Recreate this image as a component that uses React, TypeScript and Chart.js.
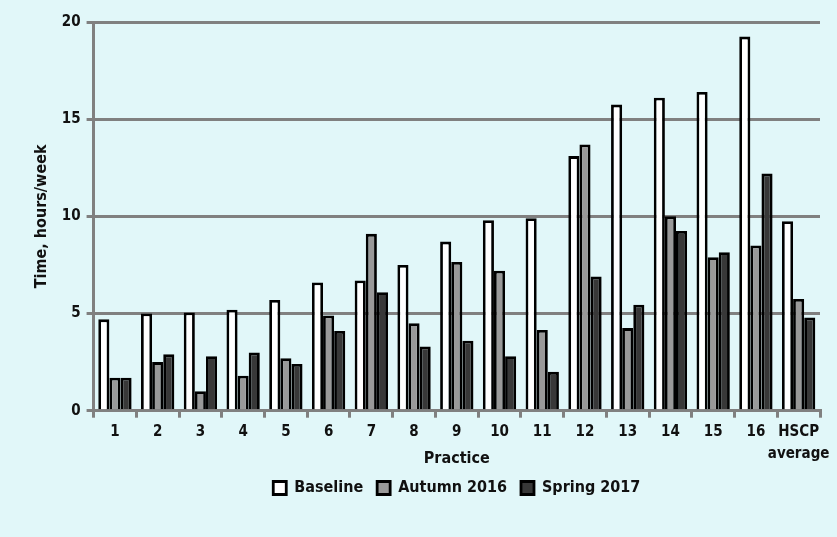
import React, { useEffect, useRef } from "react";
import { Chart, registerables } from "chart.js";

Chart.register(...registerables);

const categories: (string | string[])[] = [
  "1", "2", "3", "4", "5", "6", "7", "8", "9", "10", "11", "12", "13", "14", "15", "16", ["HSCP", "average"],
];
const baseline = [4.7, 5.0, 5.05, 5.2, 5.7, 6.6, 6.7, 7.5, 8.7, 9.8, 9.9, 13.1, 15.75, 16.1, 16.4, 19.25, 9.75];
const autumn2016 = [1.7, 2.5, 1.0, 1.8, 2.7, 4.9, 9.1, 4.5, 7.65, 7.2, 4.15, 13.7, 4.25, 10.0, 7.9, 8.5, 5.75];
const spring2017 = [1.7, 2.9, 2.8, 3.0, 2.4, 4.1, 6.1, 3.3, 3.6, 2.8, 2.0, 6.9, 5.45, 9.25, 8.15, 12.2, 4.8];
const yTicks = [0, 5, 10, 15, 20];

const FONT = "'DejaVu Sans Condensed', 'DejaVu Sans', sans-serif";
const BG = "#e1f7f9";
const GRID = "#808080";

export default function App() {
  const ref = useRef<HTMLCanvasElement | null>(null);
  useEffect(() => {
    if (!ref.current) return;
    const font = { family: FONT, size: 15, weight: "bold" as const, lineHeight: 1.45 };
    const titleFont = { family: FONT, size: 16, weight: "bold" as const, lineHeight: 1.3 };
    const common = { borderColor: "#000000", borderWidth: 2.8, categoryPercentage: 0.78, barPercentage: 1.0 };
    const chart = new Chart(ref.current, {
      type: "bar",
      data: {
        labels: categories,
        datasets: [
          { label: "Baseline", data: baseline, backgroundColor: "#ffffff", ...common },
          { label: "Autumn 2016", data: autumn2016, backgroundColor: "#999999", ...common },
          { label: "Spring 2017", data: spring2017, backgroundColor: "#383838", ...common },
        ],
      },
      options: {
        responsive: false,
        animation: false,
        layout: { padding: { left: 31, right: 17, top: 22, bottom: 31 } },
        plugins: {
          tooltip: { enabled: false },
          legend: {
            position: "bottom",
            fullSize: false,
            labels: {
              font: { family: FONT, size: 16, weight: "bold" },
              color: "#111111",
              boxWidth: 13,
              boxHeight: 13,
              padding: 14,
            },
          },
        },
        scales: {
          x: {
            offset: true,
            grid: {
              offset: true,
              drawOnChartArea: false,
              drawTicks: true,
              tickLength: 7,
              color: GRID,
              lineWidth: 3,
            },
            border: { display: true, color: GRID, width: 3 },
            ticks: { font, color: "#111111", padding: 4, maxRotation: 0, autoSkip: false },
            title: { display: true, text: "Practice", font: titleFont, color: "#111111", padding: { top: -21, bottom: -3 } },
          },
          y: {
            min: 0,
            max: 20,
            afterBuildTicks: (axis: any) => {
              axis.ticks = yTicks.map((v) => ({ value: v }));
            },
            grid: { color: GRID, lineWidth: 3, tickLength: 7, drawTicks: true },
            border: { display: true, color: GRID, width: 3 },
            ticks: { font, color: "#111111", padding: 6 },
            title: { display: true, text: "Time, hours/week", font: titleFont, color: "#111111", padding: { top: 0, bottom: 4 } },
          },
        },
      },
    });
    return () => chart.destroy();
  }, []);
  return (
    <div style={{ position: "fixed", left: 0, top: 0, width: 837, height: 537, background: BG }}>
      <canvas ref={ref} width={837} height={537} />
    </div>
  );
}
